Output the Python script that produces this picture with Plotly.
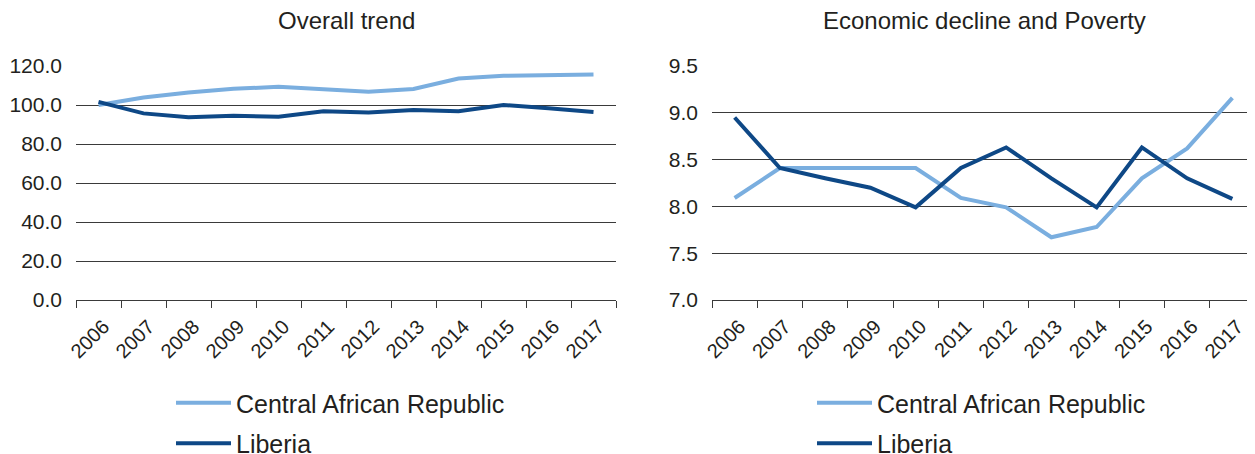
import plotly.graph_objects as go
from plotly.subplots import make_subplots

years = ["2006", "2007", "2008", "2009", "2010", "2011",
         "2012", "2013", "2014", "2015", "2016", "2017"]

# Overall trend (index)
car_overall = [100.0, 103.8, 106.4, 108.3, 109.3, 107.8,
               106.8, 108.2, 113.6, 115.0, 115.3, 115.6]
lib_overall = [101.6, 95.7, 93.7, 94.5, 94.0, 96.8,
               96.1, 97.4, 96.8, 100.0, 98.3, 96.4]

# Economic decline and Poverty
car_econ = [8.09, 8.41, 8.41, 8.41, 8.41, 8.09,
            7.99, 7.67, 7.78, 8.30, 8.62, 9.16]
lib_econ = [8.95, 8.41, 8.30, 8.20, 7.99, 8.41,
            8.63, 8.30, 7.99, 8.63, 8.30, 8.08]

left_ticks = [0, 20, 40, 60, 80, 100, 120]
right_ticks = [7.0, 7.5, 8.0, 8.5, 9.0, 9.5]

LIGHT = "#7aaedf"
DARK = "#0e4886"
GRID = "#3a3a3a"
TXT = "#231f20"
SANS = "Liberation Sans, Arial, sans-serif"

# the page keeps the browser's 8px body margin, so the figure is 8px smaller
W, H = 1247, 446


def px(x):
    return x / W


def py(y):
    return 1 - y / H


fig = make_subplots(rows=1, cols=2)

series = [
    (1, "Central African Republic", car_overall, LIGHT, "legend"),
    (1, "Liberia", lib_overall, DARK, "legend"),
    (2, "Central African Republic", car_econ, LIGHT, "legend2"),
    (2, "Liberia", lib_econ, DARK, "legend2"),
]
for col, name, vals, color, leg in series:
    fig.add_trace(
        go.Scatter(
            x=years, y=vals, mode="lines", name=name,
            line=dict(color=color, width=4),
            legend=leg, legendgroup=leg + name,
        ),
        row=1, col=col,
    )

xcommon = dict(
    type="category", showgrid=False, showline=True, linecolor=GRID, linewidth=1,
    ticks="outside", tickson="boundaries", ticklen=7, tickcolor=GRID,
    tickangle=-45, tickfont=dict(family=SANS, size=20, color=TXT),
    range=[-0.5, 11.5], ticklabelshift=5, ticklabelstandoff=6, automargin=False,
)
ycommon = dict(
    showgrid=True, gridcolor=GRID, gridwidth=1, zeroline=False, showline=False,
    ticks="", tickfont=dict(family=SANS, size=21, color=TXT),
    ticklabelstandoff=13, automargin=False,
)

fig.update_xaxes(**xcommon)
fig.update_layout(
    xaxis=dict(domain=[px(68), px(608)]),
    xaxis2=dict(domain=[px(704), 1.0]),
    yaxis=dict(ycommon, domain=[py(292), py(58)], range=[0, 120],
               tickvals=left_ticks, tickformat=".1f"),
    yaxis2=dict(ycommon, domain=[py(292), py(58)], range=[7.0, 9.5],
                tickvals=right_ticks, tickformat=".1f"),
)

for text, cx in [("Overall trend", 338), ("Economic decline and Poverty", 976)]:
    fig.add_annotation(text=text, x=px(cx), y=py(13), xref="paper", yref="paper",
                       xanchor="center", yanchor="middle", showarrow=False,
                       font=dict(family=SANS, size=24, color=TXT))

legend_style = dict(
    orientation="v", xanchor="left", yanchor="top", itemwidth=55,
    tracegroupgap=5, bgcolor="rgba(0,0,0,0)",
    font=dict(family=SANS, size=25, color=TXT),
)
fig.update_layout(
    width=W, height=H,
    margin=dict(l=0, r=0, t=0, b=0, autoexpand=False),
    paper_bgcolor="white", plot_bgcolor="white",
    legend=dict(legend_style, x=px(163), y=py(372)),
    legend2=dict(legend_style, x=px(804), y=py(372)),
)

fig.write_html("out.html")
